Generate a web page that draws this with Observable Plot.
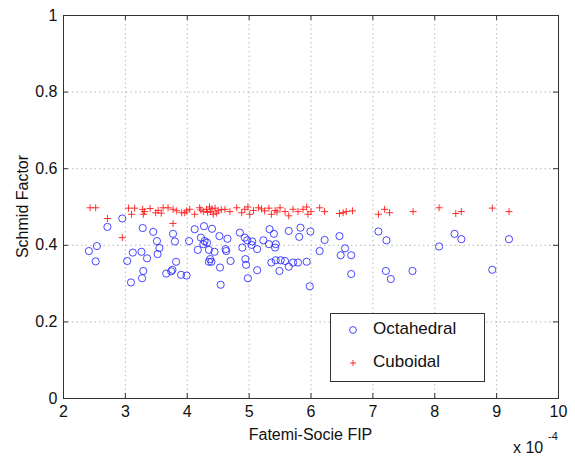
<!DOCTYPE html>
<html><head><meta charset="utf-8">
<script src="https://cdn.jsdelivr.net/npm/d3@7"></script>
<script src="https://cdn.jsdelivr.net/npm/@observablehq/plot@0.6"></script>
<style>body{margin:0;background:#fff}</style>
</head><body><div id="chart"></div>
<script>
const xTicks = [2, 3, 4, 5, 6, 7, 8, 9, 10];
const xTickLabels = ["2", "3", "4", "5", "6", "7", "8", "9", "10"];
const yTicks = [0, 0.2, 0.4, 0.6, 0.8, 1];
const yTickLabels = ["0", "0.2", "0.4", "0.6", "0.8", "1"];
const seriesNames = ["Octahedral", "Cuboidal"];
const xLabel = "Fatemi-Socie FIP";
const yLabel = "Schmid Factor";
const xExponent = "-4";

// x values in units of 1e-4
const octX = [2.41,2.54,2.52,2.71,2.95,3.03,3.09,3.12,3.26,3.28,3.27,3.29,3.35,3.45,3.51,3.55,3.52,3.66,3.74,3.76,3.77,3.80,3.82,3.90,3.99,4.03,4.12,4.17,4.22,4.26,4.27,4.28,4.32,4.35,4.35,4.37,4.39,4.40,4.44,4.52,4.53,4.54,4.62,4.63,4.65,4.70,4.85,4.89,4.93,4.94,4.95,4.97,4.98,5.04,5.05,5.13,5.13,5.23,5.32,5.33,5.36,5.40,5.42,5.43,5.43,5.49,5.51,5.58,5.64,5.64,5.71,5.79,5.81,5.83,5.93,5.98,5.99,6.14,6.22,6.46,6.48,6.55,6.65,6.65,7.09,7.22,7.21,7.29,7.64,8.07,8.32,8.43,8.93,9.20];
const octY = [0.385,0.398,0.358,0.448,0.47,0.359,0.303,0.381,0.383,0.445,0.314,0.333,0.366,0.435,0.411,0.393,0.377,0.326,0.332,0.336,0.43,0.41,0.357,0.323,0.321,0.411,0.442,0.388,0.42,0.403,0.45,0.411,0.407,0.388,0.357,0.364,0.357,0.443,0.383,0.424,0.342,0.297,0.39,0.385,0.417,0.359,0.433,0.394,0.42,0.364,0.349,0.413,0.314,0.401,0.41,0.39,0.335,0.413,0.403,0.442,0.355,0.43,0.394,0.403,0.361,0.333,0.361,0.359,0.344,0.4375,0.355,0.355,0.422,0.446,0.357,0.293,0.436,0.385,0.414,0.424,0.374,0.392,0.374,0.325,0.436,0.413,0.333,0.312,0.333,0.397,0.43,0.416,0.336,0.416];

const cubX = [2.43,2.52,2.71,2.95,3.05,3.10,3.15,3.28,3.29,3.31,3.49,3.53,3.61,3.69,3.77,3.77,3.83,3.91,3.96,3.99,4.04,4.12,4.20,4.26,4.31,4.36,4.38,4.42,4.45,4.50,4.61,4.69,4.80,4.88,4.93,4.98,5.01,5.07,5.15,5.25,5.32,5.36,5.42,5.50,5.58,5.64,5.71,5.79,5.87,5.93,5.95,6.00,6.14,6.22,6.46,6.52,6.57,6.67,7.09,7.19,7.27,7.65,8.07,8.34,8.43,8.93,9.20,4.22,4.33,4.40,4.47,4.55,5.20,5.45,3.40,3.58];
const cubY = [0.498,0.498,0.47,0.42,0.497,0.481,0.497,0.494,0.481,0.488,0.485,0.491,0.498,0.498,0.494,0.457,0.49,0.485,0.485,0.49,0.494,0.481,0.498,0.488,0.494,0.5,0.488,0.481,0.497,0.49,0.494,0.488,0.498,0.485,0.494,0.5,0.481,0.491,0.498,0.49,0.497,0.481,0.491,0.498,0.488,0.477,0.494,0.488,0.494,0.5,0.481,0.488,0.498,0.488,0.483,0.485,0.488,0.49,0.481,0.494,0.485,0.488,0.498,0.483,0.488,0.497,0.488,0.492,0.486,0.495,0.484,0.493,0.495,0.487,0.496,0.484];

const oct = octX.map((x, i) => ({x, y: octY[i]}));
const cub = cubX.map((x, i) => ({x, y: cubY[i]}));

const W = 575, H = 456, mL = 63, mR = 17, mT = 15, mB = 58;
const font = "'Liberation Sans', Arial, Helvetica, sans-serif";
const blue = "#1a1aff", red = "#ff1a1a";
const tkY = 0.013, tkX = 0.08; // inward tick lengths (~5px)

const gridStyle = {stroke: "#a8a8a8", strokeOpacity: 1, strokeWidth: 0.8, strokeDasharray: "1.5,3"};
const tickStyle = {stroke: "#333", strokeWidth: 1};

const plot = Plot.plot({
  width: W, height: H,
  marginLeft: mL, marginRight: mR, marginTop: mT, marginBottom: mB,
  style: {fontFamily: font, fontSize: "16px", color: "#111", background: "#fff", overflow: "visible"},
  x: {domain: [2, 10]},
  y: {domain: [0, 1]},
  marks: [
    Plot.gridX(xTicks, gridStyle),
    Plot.gridY(yTicks, gridStyle),
    Plot.ruleX(xTicks, {x: d => d, y1: 0, y2: tkY, ...tickStyle}),
    Plot.ruleX(xTicks, {x: d => d, y1: 1 - tkY, y2: 1, ...tickStyle}),
    Plot.ruleY(yTicks, {y: d => d, x1: 2, x2: 2 + tkX, ...tickStyle}),
    Plot.ruleY(yTicks, {y: d => d, x1: 10 - tkX, x2: 10, ...tickStyle}),
    Plot.frame({stroke: "#333", strokeWidth: 1}),
    Plot.axisX(xTicks, {tickSize: 0, tickPadding: 7, tickFormat: d => xTickLabels[xTicks.indexOf(d)], label: null, fill: "#111"}),
    Plot.axisY(yTicks, {tickSize: 0, tickPadding: 6, tickFormat: d => yTickLabels[yTicks.indexOf(d)], label: null, fill: "#111"}),
    Plot.dot(oct, {x: "x", y: "y", symbol: "circle", r: 3.6, stroke: blue, strokeWidth: 0.8, fill: "none"}),
    Plot.dot(cub, {x: "x", y: "y", symbol: "plus", r: 2.4, stroke: red, strokeWidth: 0.9})
  ]
});

const svg = d3.select(plot);
const cx = (mL + (W - mR)) / 2, cy = (mT + (H - mB)) / 2;

svg.append("text").attr("x", cx).attr("y", 440).attr("text-anchor", "middle")
  .attr("font-size", 16).attr("fill", "#111").text(xLabel);
svg.append("text").attr("transform", `translate(24,${cy}) rotate(-90)`)
  .attr("text-anchor", "middle").attr("dominant-baseline", "middle")
  .attr("font-size", 16).attr("fill", "#111").text(yLabel);
svg.append("text").attr("x", 513).attr("y", 453).attr("text-anchor", "start")
  .attr("font-size", 16).attr("fill", "#111").text("x 10");
svg.append("text").attr("x", 548).attr("y", 440).attr("text-anchor", "start")
  .attr("font-size", 11).attr("fill", "#111").text(xExponent);

// legend
const lg = svg.append("g");
lg.append("rect").attr("x", 330.5).attr("y", 313.5).attr("width", 154).attr("height", 68)
  .attr("fill", "#fff").attr("stroke", "#333").attr("stroke-width", 1);
const rows = [330, 363];
lg.append("circle").attr("cx", 353).attr("cy", rows[0]).attr("r", 3.4)
  .attr("fill", "none").attr("stroke", blue).attr("stroke-width", 0.8);
lg.append("path").attr("d", `M350,${rows[1]}h6M353,${rows[1]-3}v6`)
  .attr("stroke", red).attr("stroke-width", 0.9).attr("fill", "none");
seriesNames.forEach((n, i) => {
  lg.append("text").attr("x", 373).attr("y", rows[i]).attr("text-anchor", "start")
    .attr("dominant-baseline", "middle")
    .attr("font-size", 17).attr("fill", "#111").text(n);
});

document.getElementById("chart").appendChild(plot);
</script>
</body></html>
